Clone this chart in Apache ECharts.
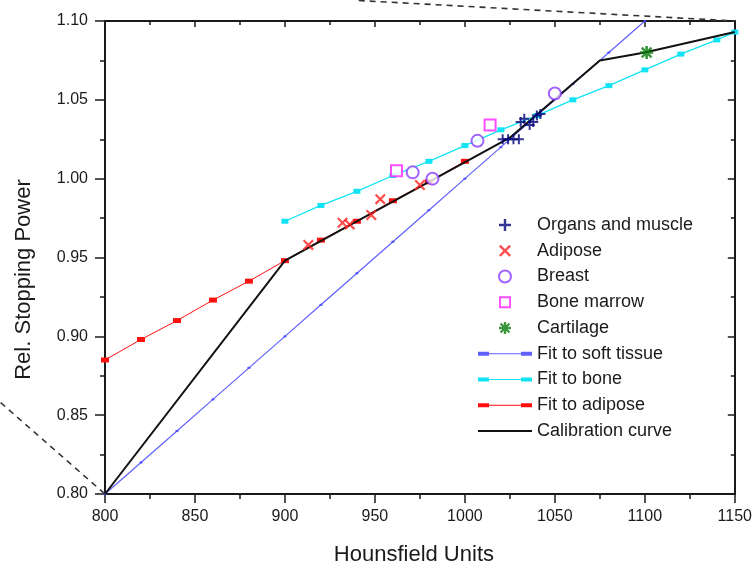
<!DOCTYPE html>
<html>
<head>
<meta charset="utf-8">
<script src="https://cdn.jsdelivr.net/npm/echarts@6/dist/echarts.min.js"></script>
<style>
  html, body { margin: 0; padding: 0; background: #fff; }
  #chart { width: 755px; height: 571px; }
</style>
</head>
<body>
<div id="chart"></div>
<script>
// Axis ranges and ticks
const xRange = [800, 1150];
const yRange = [0.80, 1.10];
const xTickStep = 50;
const yTickStep = 0.05;

// Measured tissues: [Hounsfield units, relative stopping power]
const organsMuscle = [[1021, 1.025], [1024, 1.025], [1027, 1.025], [1030, 1.025],
  [1031, 1.036], [1033, 1.038], [1036, 1.034], [1038, 1.036], [1040, 1.040], [1042, 1.041]];
const adipose = [[913, 0.958], [932, 0.972], [936, 0.971], [948, 0.977], [953, 0.987], [975, 0.996]];
const breast = [[971, 1.004], [982, 1.000], [1007, 1.024], [1050, 1.054]];
const boneMarrow = [[962, 1.005], [1014, 1.034]];
const cartilage = [[1101, 1.080]];

// Linear fits
const softFitHU = [800, 820, 840, 860, 880, 900, 920, 940, 960, 980, 1000, 1020, 1040, 1060, 1080, 1100];
const softFitRSP = [0.800, 0.820, 0.840, 0.860, 0.880, 0.900, 0.920, 0.940, 0.960, 0.980, 1.000, 1.020, 1.040, 1.060, 1.080, 1.100];
const boneFitHU = [900, 920, 940, 960, 980, 1000, 1020, 1040, 1060, 1080, 1100, 1120, 1140, 1150];
const boneFitRSP = [0.973, 0.983, 0.992, 1.002, 1.011, 1.021, 1.031, 1.040, 1.050, 1.059, 1.069, 1.079, 1.088, 1.093];
const adiposeFitHU = [800, 820, 840, 860, 880, 900, 920, 940, 960, 980, 1000];
const adiposeFitRSP = [0.885, 0.898, 0.910, 0.923, 0.935, 0.948, 0.961, 0.973, 0.986, 0.998, 1.011];

// Piecewise calibration curve
const calibHU = [800, 900, 1025, 1075, 1100, 1150];
const calibRSP = [0.800, 0.948, 1.026, 1.075, 1.080, 1.093];

// Dashed guide lines leading out of the plot corners (data units)
const guideTopHU = [941, 1150];
const guideTopRSP = [1.113, 1.100];
const guideLeftHU = [742, 800];
const guideLeftRSP = [0.858, 0.800];

const zip = (a, b) => a.map((v, i) => [v, b[i]]);

const FONT = '"Liberation Sans", Arial, sans-serif';
const INK = '#1a1a1a';

const plusPath = 'path://M4,0h2v10h-2zM0,4h10v2h-10z';
const crossPath = 'path://M0,1.4L1.4,0L10,8.6L8.6,10zM8.6,0L10,1.4L1.4,10L0,8.6z';
const starPath = 'path://M4,0h2v10h-2zM0,4h10v2h-10zM0.6,1.9L1.9,0.6L9.4,8.1L8.1,9.4zM8.1,0.6L9.4,1.9L1.9,9.4L0.6,8.1z';
const squareOutline = 'path://M0,0h10v10h-10zM1.6,1.6v6.8h6.8v-6.8z';
const fitIcon = 'path://M0,3h11v4h-11zM43,3h11v4h-11zM11,4.6h32v0.8h-32z';
const lineIcon = 'path://M0,0h54v2h-54z';

const chart = echarts.init(document.getElementById('chart'), null, { renderer: 'canvas' });

function xAxisDef(pos) {
  const bottom = pos === 'bottom';
  return {
    type: 'value', position: pos, min: xRange[0], max: xRange[1], interval: xTickStep,
    splitLine: { show: false },
    axisLine: { show: true, onZero: false, lineStyle: { color: INK, width: 2 } },
    axisTick: { show: true, inside: !bottom, length: bottom ? 9 : 6, lineStyle: { color: INK, width: 1.5 } },
    minorTick: { show: true, splitNumber: 2, length: bottom ? 5 : 4, lineStyle: { color: INK, width: 1.5 } },
    axisLabel: bottom ? { fontFamily: FONT, fontSize: 16, color: INK, margin: 15, formatter: v => String(v) } : { show: false },
    name: bottom ? 'Hounsfield Units' : '',
    nameLocation: 'middle', nameGap: 50,
    nameTextStyle: { fontFamily: FONT, fontSize: 22, color: INK, padding: [0, 12, 0, 0] },
  };
}

function yAxisDef(pos) {
  const left = pos === 'left';
  return {
    type: 'value', position: pos, min: yRange[0], max: yRange[1], interval: yTickStep,
    splitLine: { show: false },
    axisLine: { show: true, onZero: false, lineStyle: { color: INK, width: 2 } },
    axisTick: { show: true, inside: !left, length: left ? 10 : 7, lineStyle: { color: INK, width: 1.5 } },
    minorTick: { show: true, splitNumber: 2, length: left ? 5 : 4, lineStyle: { color: INK, width: 1.5 } },
    axisLabel: left ? { fontFamily: FONT, fontSize: 16, color: INK, margin: 17, formatter: v => v.toFixed(2) } : { show: false },
    name: left ? 'Rel. Stopping Power' : '',
    nameLocation: 'middle', nameGap: 70,
    nameTextStyle: { fontFamily: FONT, fontSize: 22, color: INK, padding: [0, 44, 0, 0] },
  };
}

function fitSeries(name, hu, rsp, color, width, markSize, opacity) {
  return {
    name, type: 'line', data: zip(hu, rsp), z: 2,
    symbol: 'rect', symbolSize: markSize, showSymbol: true,
    itemStyle: { color: color, opacity: opacity },
    lineStyle: { color: color, width: width, opacity: opacity },
    emphasis: { disabled: true },
  };
}

function pointSeries(name, data, symbol, size, color, extra) {
  return Object.assign({
    name, type: 'scatter', data, symbol, symbolSize: size, z: 5,
    itemStyle: { color: color },
    emphasis: { disabled: true },
  }, extra || {});
}

chart.setOption({
  animation: false,
  backgroundColor: '#fff',
  grid: { left: 105, right: 18, top: 21, bottom: 74, containLabel: false },
  xAxis: [xAxisDef('bottom'), xAxisDef('top')],
  yAxis: [yAxisDef('left'), yAxisDef('right')],
  legend: {
    orient: 'vertical', left: 478, top: 215, padding: 0,
    itemWidth: 54, itemHeight: 12, itemGap: 5.75,
    textStyle: { fontFamily: FONT, fontSize: 18, color: INK, lineHeight: 20 },
    selectedMode: false,
    data: [
      { name: 'Organs and muscle' },
      { name: 'Adipose' },
      { name: 'Breast' },
      { name: 'Bone marrow', icon: squareOutline },
      { name: 'Cartilage' },
      { name: 'Fit to soft tissue', icon: fitIcon },
      { name: 'Fit to bone', icon: fitIcon },
      { name: 'Fit to adipose', icon: fitIcon },
      { name: 'Calibration curve', icon: lineIcon },
    ],
  },
  series: [
    fitSeries('Fit to soft tissue', softFitHU, softFitRSP, '#4444ff', 1.2, [3, 2], 0.85),
    fitSeries('Fit to bone', boneFitHU, boneFitRSP, '#10e4f4', 1.3, [7, 5], 1),
    fitSeries('Fit to adipose', adiposeFitHU, adiposeFitRSP, '#ff1010', 1, [8, 5], 1),
    {
      name: 'Calibration curve', type: 'line', data: zip(calibHU, calibRSP), z: 3,
      symbol: 'none', showSymbol: false,
      itemStyle: { color: '#111' },
      lineStyle: { color: '#111', width: 2 },
      emphasis: { disabled: true },
    },
    pointSeries('Organs and muscle', organsMuscle, plusPath, 10, '#00007a'),
    pointSeries('Adipose', adipose, crossPath, 11, '#ff2020'),
    pointSeries('Breast', breast, 'emptyCircle', 12, '#8a3cff', { itemStyle: { color: '#8a3cff', borderWidth: 1.6 } }),
    pointSeries('Bone marrow', boneMarrow, 'emptyRect', 11, '#ff22ff', { itemStyle: { color: '#ff22ff', borderWidth: 1.6 } }),
    pointSeries('Cartilage', cartilage, starPath, 13, '#0a7a0a'),
  ],
});

// Dashed guides drawn outside the plot area, placed through the grid's own scales
function guidePolyline(hu, rsp) {
  const pts = zip(hu, rsp).map(p => chart.convertToPixel({ gridIndex: 0 }, p));
  return {
    type: 'polyline', silent: true, z: 1,
    shape: { points: pts },
    style: { stroke: '#333', lineWidth: 1.6, lineDash: [6, 5], fill: null },
  };
}

chart.setOption({
  graphic: [guidePolyline(guideTopHU, guideTopRSP), guidePolyline(guideLeftHU, guideLeftRSP)],
});
</script>
</body>
</html>
